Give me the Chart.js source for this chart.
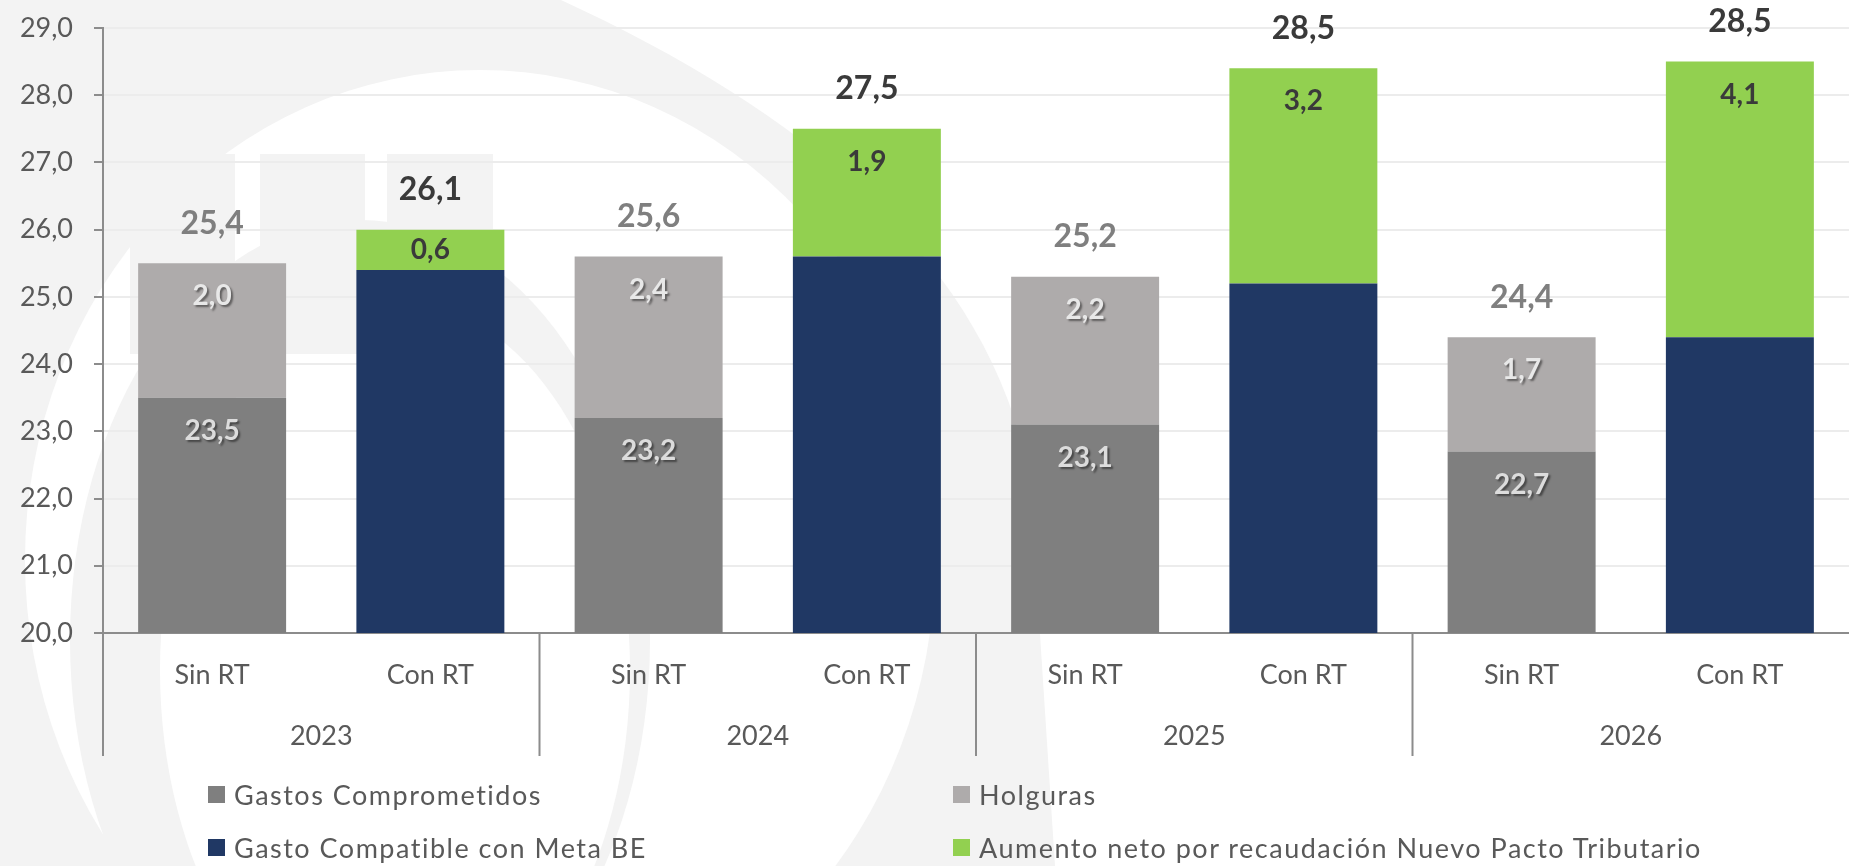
<!DOCTYPE html>
<html>
<head>
<meta charset="utf-8">
<script src="https://cdn.jsdelivr.net/npm/chart.js@4.4.1/dist/chart.umd.min.js"></script>
<style>
  body { margin: 0; background: #ffffff; }
  #wrap { position: relative; width: 1849px; height: 866px; }
  #legend { position: absolute; left: 0; top: 0; width: 100%; height: 100%; pointer-events: none;
            font-family: Lato, "Open Sans", sans-serif; font-size: 27px; color: #595959; letter-spacing: 1.5px; }
  .item { position: absolute; display: flex; align-items: center; white-space: nowrap; }
  .item span.box { width: 17px; height: 17px; margin-right: 9px; display: inline-block; }
</style>
</head>
<body>
<div id="wrap">
  <canvas id="chart" width="1849" height="866"></canvas>
  <div id="legend"></div>
</div>
<script>
// Datos del gráfico
const categorias = ['Sin RT', 'Con RT', 'Sin RT', 'Con RT', 'Sin RT', 'Con RT', 'Sin RT', 'Con RT'];
const anios = ['2023', '2024', '2025', '2026'];

const gastosComprometidos = [23.5, null, 23.2, null, 23.1, null, 22.7, null];
const holguras            = [2.0, null, 2.4, null, 2.2, null, 1.7, null];
const gastoMetaBE         = [null, 25.4, null, 25.6, null, 25.2, null, 24.4];
const aumentoPacto        = [null, 0.6, null, 1.9, null, 3.2, null, 4.1];

// Totales rotulados sobre cada barra
const totales = [25.4, 26.1, 25.6, 27.5, 25.2, 28.5, 24.4, 28.5];

const ticksY = [20, 21, 22, 23, 24, 25, 26, 27, 28, 29];

const fmt = v => v.toFixed(1).replace('.', ',');
const FONT = 'Lato, "Open Sans", sans-serif';
const GRIS_MARCA = '#f3f3f3';

// Fondo con marca de agua (logo tenue)
const marcaAgua = {
    id: 'marcaAgua',
    beforeDraw(chart) {
        const ctx = chart.ctx;
        const elipse = (cx, cy, rx, ry, color) => {
            ctx.fillStyle = color;
            ctx.beginPath();
            ctx.ellipse(cx, cy, rx, ry, 0, 0, Math.PI * 2);
            ctx.fill();
        };
        ctx.save();
        ctx.fillStyle = '#ffffff';
        ctx.fillRect(0, 0, chart.width, chart.height);
        // banda exterior
        ctx.fillStyle = GRIS_MARCA;
        ctx.beginPath();
        ctx.moveTo(0, 0);
        ctx.lineTo(561, 0);
        ctx.bezierCurveTo(800, 110, 990, 260, 1030, 480);
        ctx.lineTo(1055, 866);
        ctx.lineTo(0, 866);
        ctx.closePath();
        ctx.fill();
        // anillo blanco, anillo gris interior, centro blanco
        elipse(480, 560, 455, 490, '#ffffff');
        elipse(360, 640, 290, 420, GRIS_MARCA);
        elipse(395, 670, 235, 370, '#ffffff');
        ctx.fillStyle = GRIS_MARCA;
        [[130, 235], [260, 365], [387, 493]].forEach(([a, b]) => ctx.fillRect(a, 154, b - a, 200));
        ctx.restore();
    }
};

// Eje de categorías agrupado (años y separadores)
const ejeAgrupado = {
    id: 'ejeAgrupado',
    afterDraw(chart) {
        const ctx = chart.ctx;
        const x = chart.scales.x;
        const area = chart.chartArea;
        ctx.save();
        ctx.strokeStyle = '#8c8c8c';
        ctx.lineWidth = 2;
        ctx.beginPath();
        ctx.moveTo(area.left, area.bottom);
        ctx.lineTo(area.left, 756);
        for (let i = 1; i < anios.length; i++) {
            const sx = (x.getPixelForValue(i * 2 - 1) + x.getPixelForValue(i * 2)) / 2;
            ctx.moveTo(sx, area.bottom);
            ctx.lineTo(sx, 756);
        }
        ctx.stroke();
        ctx.fillStyle = '#595959';
        ctx.font = '27px ' + FONT;
        ctx.textAlign = 'center';
        ctx.textBaseline = 'middle';
        anios.forEach((a, i) => {
            const cx = (x.getPixelForValue(i * 2) + x.getPixelForValue(i * 2 + 1)) / 2;
            ctx.fillText(a, cx, 736);
        });
        ctx.restore();
    }
};

// Rótulos de datos y totales
const rotulos = {
    id: 'rotulos',
    afterDatasetsDraw(chart) {
        const ctx = chart.ctx;
        ctx.save();
        ctx.textAlign = 'center';
        ctx.textBaseline = 'middle';
        const topes = [];
        chart.data.datasets.forEach((ds, di) => {
            const meta = chart.getDatasetMeta(di);
            meta.data.forEach((bar, i) => {
                const v = ds.data[i];
                if (v === null) return;
                const top = Math.min(bar.y, bar.base);
                const base = Math.max(bar.y, bar.base);
                const centro = (top + base) / 2;
                const y = ds.labelPos === 'center' ? centro : Math.min(top + 33, centro);
                if (topes[i] === undefined || top < topes[i].y) topes[i] = { x: bar.x, y: top };
                ctx.font = 'bold 28px ' + FONT;
                if (ds.labelShadow) {
                    ctx.shadowColor = 'rgba(0,0,0,0.45)';
                    ctx.shadowOffsetX = 2;
                    ctx.shadowOffsetY = 2;
                    ctx.shadowBlur = 2;
                } else {
                    ctx.shadowColor = 'transparent';
                }
                ctx.fillStyle = ds.labelColor;
                ctx.fillText(fmt(v), bar.x, y);
            });
        });
        ctx.shadowColor = 'transparent';
        ctx.font = 'bold 32px ' + FONT;
        topes.forEach((t, i) => {
            if (!t) return;
            ctx.fillStyle = i % 2 === 0 ? '#7f7f7f' : '#3a3a3a';
            ctx.fillText(fmt(totales[i]), t.x, t.y - 40);
        });
        ctx.restore();
    }
};

const datasets = [
    { label: 'Gastos Comprometidos', data: gastosComprometidos, backgroundColor: '#7f7f7f',
      labelColor: '#dcdcdc', labelShadow: true, labelPos: 'end' },
    { label: 'Holguras', data: holguras, backgroundColor: '#aeabab',
      labelColor: '#e8e8e8', labelShadow: true, labelPos: 'end' },
    { label: 'Gasto Compatible con Meta BE', data: gastoMetaBE, backgroundColor: '#203864',
      labelColor: '#ffffff', labelShadow: true, labelPos: 'center' },
    { label: 'Aumento neto por recaudación Nuevo Pacto Tributario', data: aumentoPacto, backgroundColor: '#92d050',
      labelColor: '#3a3a3a', labelShadow: false, labelPos: 'end' }
];
datasets.forEach(d => {
    d.categoryPercentage = 1;
    d.barPercentage = 0.678;
    d.borderWidth = 0;
});

new Chart(document.getElementById('chart'), {
    type: 'bar',
    data: { labels: categorias, datasets: datasets },
    options: {
        responsive: false,
        animation: false,
        layout: { padding: { top: 28, right: 0, left: 0, bottom: 0 } },
        plugins: { legend: { display: false }, tooltip: { enabled: false } },
        scales: {
            x: {
                stacked: true,
                grid: { drawOnChartArea: false, drawTicks: false },
                border: { color: '#8c8c8c', width: 2 },
                ticks: { color: '#595959', font: { family: FONT, size: 27 }, padding: 26, maxRotation: 0 },
                afterFit(scale) { scale.height = 866 - 633; }
            },
            y: {
                stacked: true,
                min: 20,
                max: 29,
                afterBuildTicks(scale) { scale.ticks = ticksY.map(v => ({ value: v })); },
                grid: { color: '#ececec', lineWidth: 2, tickColor: '#8c8c8c', tickLength: 9 },
                border: { color: '#8c8c8c', width: 2 },
                ticks: { color: '#595959', font: { family: FONT, size: 27 }, padding: 21,
                         callback: v => fmt(v) },
                afterFit(scale) {
                    scale.width = 103;
                    scale.paddingTop = 0;
                    scale.paddingBottom = 0;
                }
            }
        }
    },
    plugins: [marcaAgua, ejeAgrupado, rotulos]
});

// Leyenda en dos columnas
const posLeyenda = [[208, 796], [953, 796], [208, 849], [953, 849]];
const leyenda = document.getElementById('legend');
datasets.forEach((d, i) => {
    const el = document.createElement('div');
    el.className = 'item';
    el.style.left = posLeyenda[i][0] + 'px';
    el.style.top = (posLeyenda[i][1] - 18) + 'px';
    el.innerHTML = '<span class="box" style="background:' + d.backgroundColor + '"></span>' + d.label;
    leyenda.appendChild(el);
});
</script>
</body>
</html>
